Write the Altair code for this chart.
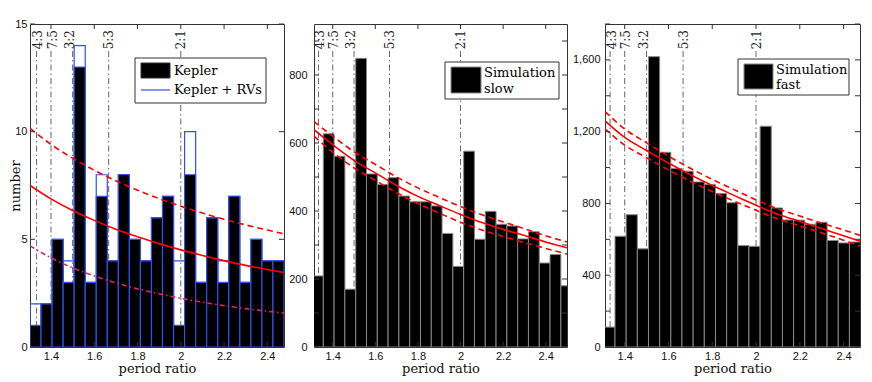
import altair as alt
import pandas as pd

# ---------------- shared ----------------
ratio_values = [4 / 3, 7 / 5, 3 / 2, 5 / 3, 2.0]
ratio_labels = ["4:3", "7:5", "3:2", "5:3", "2:1"]
ratio_label_x = [1.342, 1.408, 1.486, 1.669, 2.003]
x_tick_values = [1.4, 1.6, 1.8, 2.0, 2.2, 2.4]

# ---------------- panel 1 : Kepler ----------------
p1_x_domain = [1.303, 2.477]
p1_y_domain = [0, 15]
p1_y_ticks = [0, 5, 10, 15]
p1_bin_start = 1.303
p1_bin_width = 0.05104
p1_kepler = [1, 2, 5, 3, 13, 3, 7, 4, 8, 5, 4, 6, 7, 1, 8, 3, 6, 3, 7, 3, 5, 4, 4]
p1_kepler_rv = [2, 2, 5, 4, 14, 3, 8, 4, 8, 5, 4, 6, 7, 4, 10, 3, 6, 4, 7, 3, 5, 4, 4]
p1_fit_x = [1.303, 1.4, 1.5, 1.6, 1.7, 1.8, 1.9, 2.0, 2.1, 2.2, 2.3, 2.4, 2.477]
p1_fit_mid = [7.50, 6.88, 6.34, 5.88, 5.47, 5.12, 4.80, 4.51, 4.25, 4.01, 3.79, 3.60, 3.46]
p1_fit_hi = [10.15, 9.41, 8.77, 8.21, 7.72, 7.28, 6.89, 6.54, 6.22, 5.93, 5.67, 5.43, 5.26]
p1_fit_lo = [4.70, 4.14, 3.68, 3.30, 2.98, 2.70, 2.47, 2.26, 2.08, 1.92, 1.78, 1.66, 1.57]
p1_legend = ["Kepler", "Kepler + RVs"]

# ---------------- panel 2 : Simulation slow ----------------
p2_x_domain = [1.312, 2.50]
p2_y_domain = [0, 950]
p2_y_ticks = [0, 100, 200, 300, 400, 500, 600, 700, 800, 900]
p2_bin_start = 1.305
p2_bin_width = 0.0507
p2_counts = [209, 627, 561, 170, 849, 509, 478, 498, 444, 427, 427, 415,
             334, 237, 576, 317, 399, 361, 356, 318, 339, 247, 272, 180]
p2_fit_x = [1.312, 1.4, 1.5, 1.6, 1.7, 1.8, 1.9, 2.0, 2.1, 2.2, 2.3, 2.4, 2.5]
p2_fit_mid = [639, 595, 549, 512, 475, 443, 416, 390, 366, 346, 328, 309, 292]
p2_fit_hi = [663, 620, 574, 537, 500, 468, 440, 413, 389, 368, 348, 327, 309]
p2_fit_lo = [620, 573, 527, 490, 454, 422, 394, 367, 344, 325, 307, 290, 273]
p2_legend = ["Simulation", "slow"]

# ---------------- panel 3 : Simulation fast ----------------
p3_x_domain = [1.31, 2.475]
p3_y_domain = [0, 1800]
p3_y_ticks = [0, 200, 400, 600, 800, 1000, 1200, 1400, 1600, 1800]
p3_bin_start = 1.3047
p3_bin_width = 0.051
p3_counts = [111, 617, 737, 547, 1618, 1085, 995, 980, 920, 906, 856, 804,
             565, 561, 1230, 775, 708, 707, 684, 695, 594, 580, 585]
p3_fit_x = [1.31, 1.4, 1.5, 1.6, 1.7, 1.8, 1.9, 2.0, 2.1, 2.2, 2.3, 2.4, 2.475]
p3_fit_mid = [1260, 1168, 1095, 1025, 960, 900, 845, 790, 740, 700, 660, 620, 590]
p3_fit_hi = [1312, 1215, 1138, 1064, 996, 934, 877, 820, 770, 730, 690, 652, 622]
p3_fit_lo = [1216, 1125, 1055, 987, 924, 866, 813, 762, 713, 675, 636, 595, 563]
p3_legend = ["Simulation", "fast"]

# ---------------- styling ----------------
RED = "#ff0000"
BLUE = "#3050f0"
AX = "#333333"
SERIF = "DejaVu Serif"
SANS = "Liberation Sans"
H = 323
one = pd.DataFrame({"k": [0]})


def bars_frame(start, width, counts):
    return pd.DataFrame({
        "x0": [start + i * width for i in range(len(counts))],
        "x1": [start + (i + 1) * width for i in range(len(counts))],
        "n": counts,
    })


def xenc(field, xdom):
    return alt.X(field, type="quantitative",
                 scale=alt.Scale(domain=xdom, nice=False, zero=False),
                 axis=alt.Axis(values=x_tick_values, format="~g", title="period ratio",
                               labelPadding=3, titlePadding=1))


def yenc(field, ydom, yticks, label_expr, pad, title, title_x):
    kw = dict(values=yticks, labelExpr=label_expr, labelPadding=pad)
    if title:
        kw.update(title=title, titleX=title_x)
    else:
        kw.update(title=None)
    return alt.Y(field, type="quantitative",
                 scale=alt.Scale(domain=ydom, nice=False, zero=True),
                 axis=alt.Axis(**kw))


def panel(xdom, ydom, yticks, label_expr, pad, title, title_x, w,
          bar_layers, fit_x, fit_mid, fit_hi, fit_lo, lo_dash, legend_layers):
    X = lambda f: xenc(f, xdom)
    Y = lambda f: yenc(f, ydom, yticks, label_expr, pad, title, title_x)

    rdf = pd.DataFrame({"r": ratio_values, "lx": ratio_label_x, "lab": ratio_labels})
    rules = alt.Chart(rdf).mark_rule(color="#555555", strokeWidth=0.9,
                                     strokeDash=[6, 3, 1.5, 3]).encode(
        x=X("r"), y=alt.value(27), y2=alt.value(H))
    rtext = alt.Chart(rdf).mark_text(angle=270, align="right", baseline="middle",
                                     font=SERIF, fontSize=12, color="#222222").encode(
        x=X("lx"), y=alt.value(6), text="lab:N")

    layers = [rules, rtext]
    for df, kw in bar_layers:
        layers.append(alt.Chart(df).mark_rect(clip=True, **kw).encode(
            x=X("x0"), x2="x1", y=Y("n"), y2=alt.datum(0)))

    fdf = pd.DataFrame({"x": fit_x, "mid": fit_mid, "hi": fit_hi, "lo": fit_lo})
    layers.append(alt.Chart(fdf).mark_line(color=RED, strokeWidth=1.6, clip=True,
                                           interpolate="monotone").encode(x=X("x"), y=Y("mid")))
    layers.append(alt.Chart(fdf).mark_line(color=RED, strokeWidth=1.6, clip=True,
                                           strokeDash=[6, 4], interpolate="monotone").encode(
        x=X("x"), y=Y("hi")))
    layers.append(alt.Chart(fdf).mark_line(color=lo_dash[0], strokeWidth=1.6, clip=True,
                                           strokeDash=lo_dash[1], interpolate="monotone").encode(
        x=X("x"), y=Y("lo")))

    # inside ticks (MATLAB style box ticks)
    ytdf = pd.DataFrame({"t": yticks})
    xtdf = pd.DataFrame({"t": x_tick_values})
    tk = dict(color=AX, strokeWidth=1)
    layers.append(alt.Chart(ytdf).mark_rule(**tk).encode(y=Y("t"), x=alt.value(0), x2=alt.value(5)))
    layers.append(alt.Chart(ytdf).mark_rule(**tk).encode(y=Y("t"), x=alt.value(w - 5), x2=alt.value(w)))
    layers.append(alt.Chart(xtdf).mark_rule(**tk).encode(x=X("t"), y=alt.value(H - 5), y2=alt.value(H)))
    layers.append(alt.Chart(xtdf).mark_rule(**tk).encode(x=X("t"), y=alt.value(0), y2=alt.value(5)))

    layers += legend_layers
    return alt.layer(*layers).properties(width=w, height=H)


def legend_box(x0, x1, y0, y1):
    return alt.Chart(one).mark_rect(fill="white", stroke=AX, strokeWidth=1).encode(
        x=alt.value(x0), x2=alt.value(x1), y=alt.value(y0), y2=alt.value(y1))


def legend_patch(x0, x1, y0, y1, stroke):
    return alt.Chart(one).mark_rect(fill="black", stroke=stroke, strokeWidth=1).encode(
        x=alt.value(x0), x2=alt.value(x1), y=alt.value(y0), y2=alt.value(y1))


def legend_text(txt, x, y):
    return alt.Chart(one).mark_text(align="left", baseline="middle", font=SERIF,
                                    fontSize=13, color="black").encode(
        x=alt.value(x), y=alt.value(y), text=alt.value(txt))


# panel 1
W1 = 254
leg1 = [
    legend_box(105, 236, 34, 79),
    legend_patch(111, 140, 39, 54, AX),
    legend_text(p1_legend[0], 144, 47),
    alt.Chart(one).mark_rule(color=BLUE, strokeWidth=1.2).encode(
        x=alt.value(111), x2=alt.value(140), y=alt.value(66)),
    legend_text(p1_legend[1], 144, 66),
]
c1 = panel(p1_x_domain, p1_y_domain, p1_y_ticks, "format(datum.value, 'd')", 3, "number", -8, W1,
           [(bars_frame(p1_bin_start, p1_bin_width, p1_kepler_rv),
             dict(fill="transparent", stroke=BLUE, strokeWidth=1.2)),
            (bars_frame(p1_bin_start, p1_bin_width, p1_kepler),
             dict(color="black", stroke=BLUE, strokeWidth=1.2))],
           p1_fit_x, p1_fit_mid, p1_fit_hi, p1_fit_lo, ("#d42a5a", [5, 3, 1.5, 3]), leg1)

# panel 2
W2 = 253
leg2 = [
    legend_box(131, 245, 38, 75),
    legend_patch(137, 167, 43, 69, "#888888"),
    legend_text(p2_legend[0], 170, 49),
    legend_text(p2_legend[1], 170, 65),
]
c2 = panel(p2_x_domain, p2_y_domain, p2_y_ticks,
           "datum.value % 200 == 0 ? format(datum.value, 'd') : ''", 7, None, 0, W2,
           [(bars_frame(p2_bin_start, p2_bin_width, p2_counts),
             dict(color="black", stroke="#888888", strokeWidth=1))],
           p2_fit_x, p2_fit_mid, p2_fit_hi, p2_fit_lo, (RED, [6, 4]), leg2)

# panel 3
W3 = 255
leg3 = [
    legend_box(133, 244, 35, 71),
    legend_patch(139, 168, 40, 65, "#888888"),
    legend_text(p3_legend[0], 171, 46),
    legend_text(p3_legend[1], 171, 61),
]
c3 = panel(p3_x_domain, p3_y_domain, p3_y_ticks,
           "datum.value % 400 == 0 ? format(datum.value, ',d') : ''", 5, None, 0, W3,
           [(bars_frame(p3_bin_start, p3_bin_width, p3_counts),
             dict(color="black", stroke="#888888", strokeWidth=1))],
           p3_fit_x, p3_fit_mid, p3_fit_hi, p3_fit_lo, (RED, [6, 4]), leg3)

chart = alt.hconcat(c1, c2, c3, spacing=3).properties(
    padding={"left": 0, "top": 9, "right": 2, "bottom": 0}
).configure_view(stroke=AX, strokeWidth=1).configure_axis(
    ticks=False, domain=False, grid=False,
    labelFont=SANS, labelFontSize=11, labelColor="#111111",
    titleFont=SERIF, titleFontSize=13, titleFontWeight="normal", titleColor="#111111",
)

chart.save("out.html", embed_options={"renderer": "svg", "actions": False})
